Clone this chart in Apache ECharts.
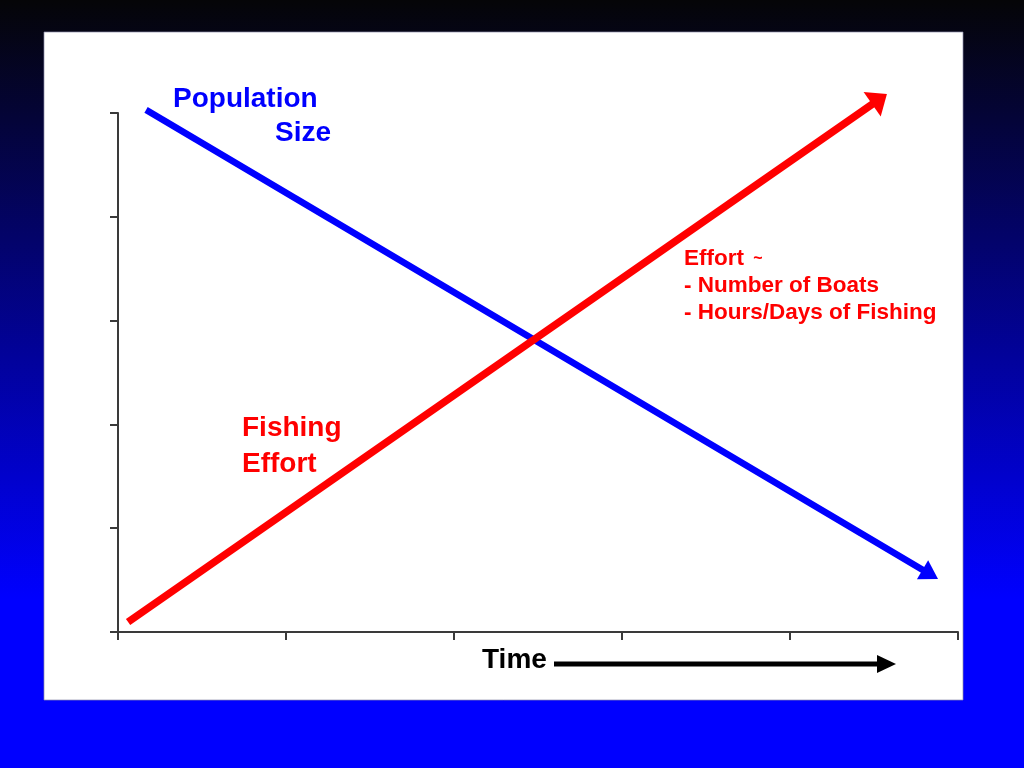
<!DOCTYPE html>
<html>
<head>
<meta charset="utf-8">
<style>html,body{margin:0;padding:0;}#c{width:1024px;height:768px;}</style>
<script src="https://cdn.jsdelivr.net/npm/echarts@6/dist/echarts.min.js"></script>
</head>
<body>
<div id="c"></div>
<script>
// Axis ticks (unlabelled) on both axes
const timeTicks = [0, 1, 2, 3, 4, 5];
const levelTicks = [0, 1, 2, 3, 4, 5];
// Population size line: start and end (arrow) points
const populationX = [0.167, 4.835];
const populationY = [5.03, 0.555];
// Fishing effort line: start and end (arrow) points
const effortX = [0.06, 4.533];
const effortY = [0.096, 5.134];
// Text labels
const popLabel = ['Population', 'Size'];
const effLabel = ['Fishing', 'Effort'];
const effortNote = ['Effort', '- Number of Boats', '- Hours/Days of Fishing'];
const timeLabel = 'Time';

const chart = echarts.init(document.getElementById('c'));
const FONT = '"Liberation Sans", Arial, sans-serif';
const axisColor = '#3a3a3a';

function coords(xs, ys) { return xs.map((x, i) => [x, ys[i]]); }

chart.setOption({
  animation: false,
  backgroundColor: {
    type: 'linear', x: 0, y: 0, x2: 0, y2: 1,
    colorStops: [
      { offset: 0, color: '#050507' },
      { offset: 0.78, color: '#0000ff' },
      { offset: 1, color: '#0000ff' }
    ]
  },
  grid: { left: 118, right: 66, top: 113, bottom: 136 },
  xAxis: {
    type: 'value', min: timeTicks[0], max: timeTicks[timeTicks.length - 1], interval: 1,
    axisLine: { show: true, onZero: false, lineStyle: { color: axisColor, width: 2 } },
    axisTick: { show: true, length: 8, lineStyle: { color: axisColor, width: 2 } },
    axisLabel: { show: false }, splitLine: { show: false }
  },
  yAxis: {
    type: 'value', min: levelTicks[0], max: levelTicks[levelTicks.length - 1], interval: 1,
    axisLine: { show: true, onZero: false, lineStyle: { color: axisColor, width: 2 } },
    axisTick: { show: true, length: 8, lineStyle: { color: axisColor, width: 2 } },
    axisLabel: { show: false }, splitLine: { show: false }
  },
  series: [
    {
      type: 'lines', coordinateSystem: 'cartesian2d', clip: false, z: 5,
      symbol: ['none', 'path://M0,0 M30,30 M15,6 L26,24 L4,24 Z'], symbolSize: [1, 30],
      lineStyle: { color: '#0000ff', width: 6.5, opacity: 1, curveness: 0 },
      itemStyle: { color: '#0000ff' },
      data: [{ coords: coords(populationX, populationY) }]
    },
    {
      type: 'lines', coordinateSystem: 'cartesian2d', clip: false, z: 5,
      symbol: ['none', 'path://M0,0 M30,30 M15,6 L30,24 L0,24 Z'], symbolSize: [1, 30],
      lineStyle: { color: '#ff0000', width: 7.5, opacity: 1, curveness: 0 },
      itemStyle: { color: '#ff0000' },
      data: [{ coords: coords(effortX, effortY) }]
    }
  ],
  graphic: [
    { type: 'rect', z: -10, silent: true,
      shape: { x: 44, y: 32, width: 919, height: 668 },
      style: { fill: '#ffffff', stroke: 'rgba(140,140,170,0.7)', lineWidth: 1 } },
    { type: 'text', z: 10, style: { text: popLabel[0], x: 173, y: 99, fill: '#0000ff', font: 'bold 28px ' + FONT, verticalAlign: 'middle' } },
    { type: 'text', z: 10, style: { text: popLabel[1], x: 275, y: 133, fill: '#0000ff', font: 'bold 28px ' + FONT, verticalAlign: 'middle' } },
    { type: 'text', z: 10, style: { text: effLabel[0], x: 242, y: 428, fill: '#ff0000', font: 'bold 28px ' + FONT, verticalAlign: 'middle' } },
    { type: 'text', z: 10, style: { text: effLabel[1], x: 242, y: 464, fill: '#ff0000', font: 'bold 28px ' + FONT, verticalAlign: 'middle' } },
    { type: 'text', z: 10, style: {
        text: '{a|' + effortNote[0] + ' }{b|~}', x: 684, y: 259, verticalAlign: 'middle',
        rich: {
          a: { fill: '#ff0000', font: 'bold 22.5px ' + FONT },
          b: { fill: '#ff0000', font: 'bold 16px ' + FONT, padding: [0, 0, 0, 3] }
        } } },
    { type: 'text', z: 10, style: { text: effortNote[1], x: 684, y: 286, fill: '#ff0000', font: 'bold 22.5px ' + FONT, verticalAlign: 'middle' } },
    { type: 'text', z: 10, style: { text: effortNote[2], x: 684, y: 312.5, fill: '#ff0000', font: 'bold 22.5px ' + FONT, verticalAlign: 'middle' } },
    { type: 'text', z: 10, style: { text: timeLabel, x: 482, y: 660, fill: '#000000', font: 'bold 28px ' + FONT, verticalAlign: 'middle' } },
    { type: 'line', z: 10, shape: { x1: 554, y1: 664, x2: 880, y2: 664 }, style: { stroke: '#000000', lineWidth: 5 } },
    { type: 'polygon', z: 10, shape: { points: [[877, 655], [896, 664], [877, 673]] }, style: { fill: '#000000' } }
  ]
});
</script>
</body>
</html>
